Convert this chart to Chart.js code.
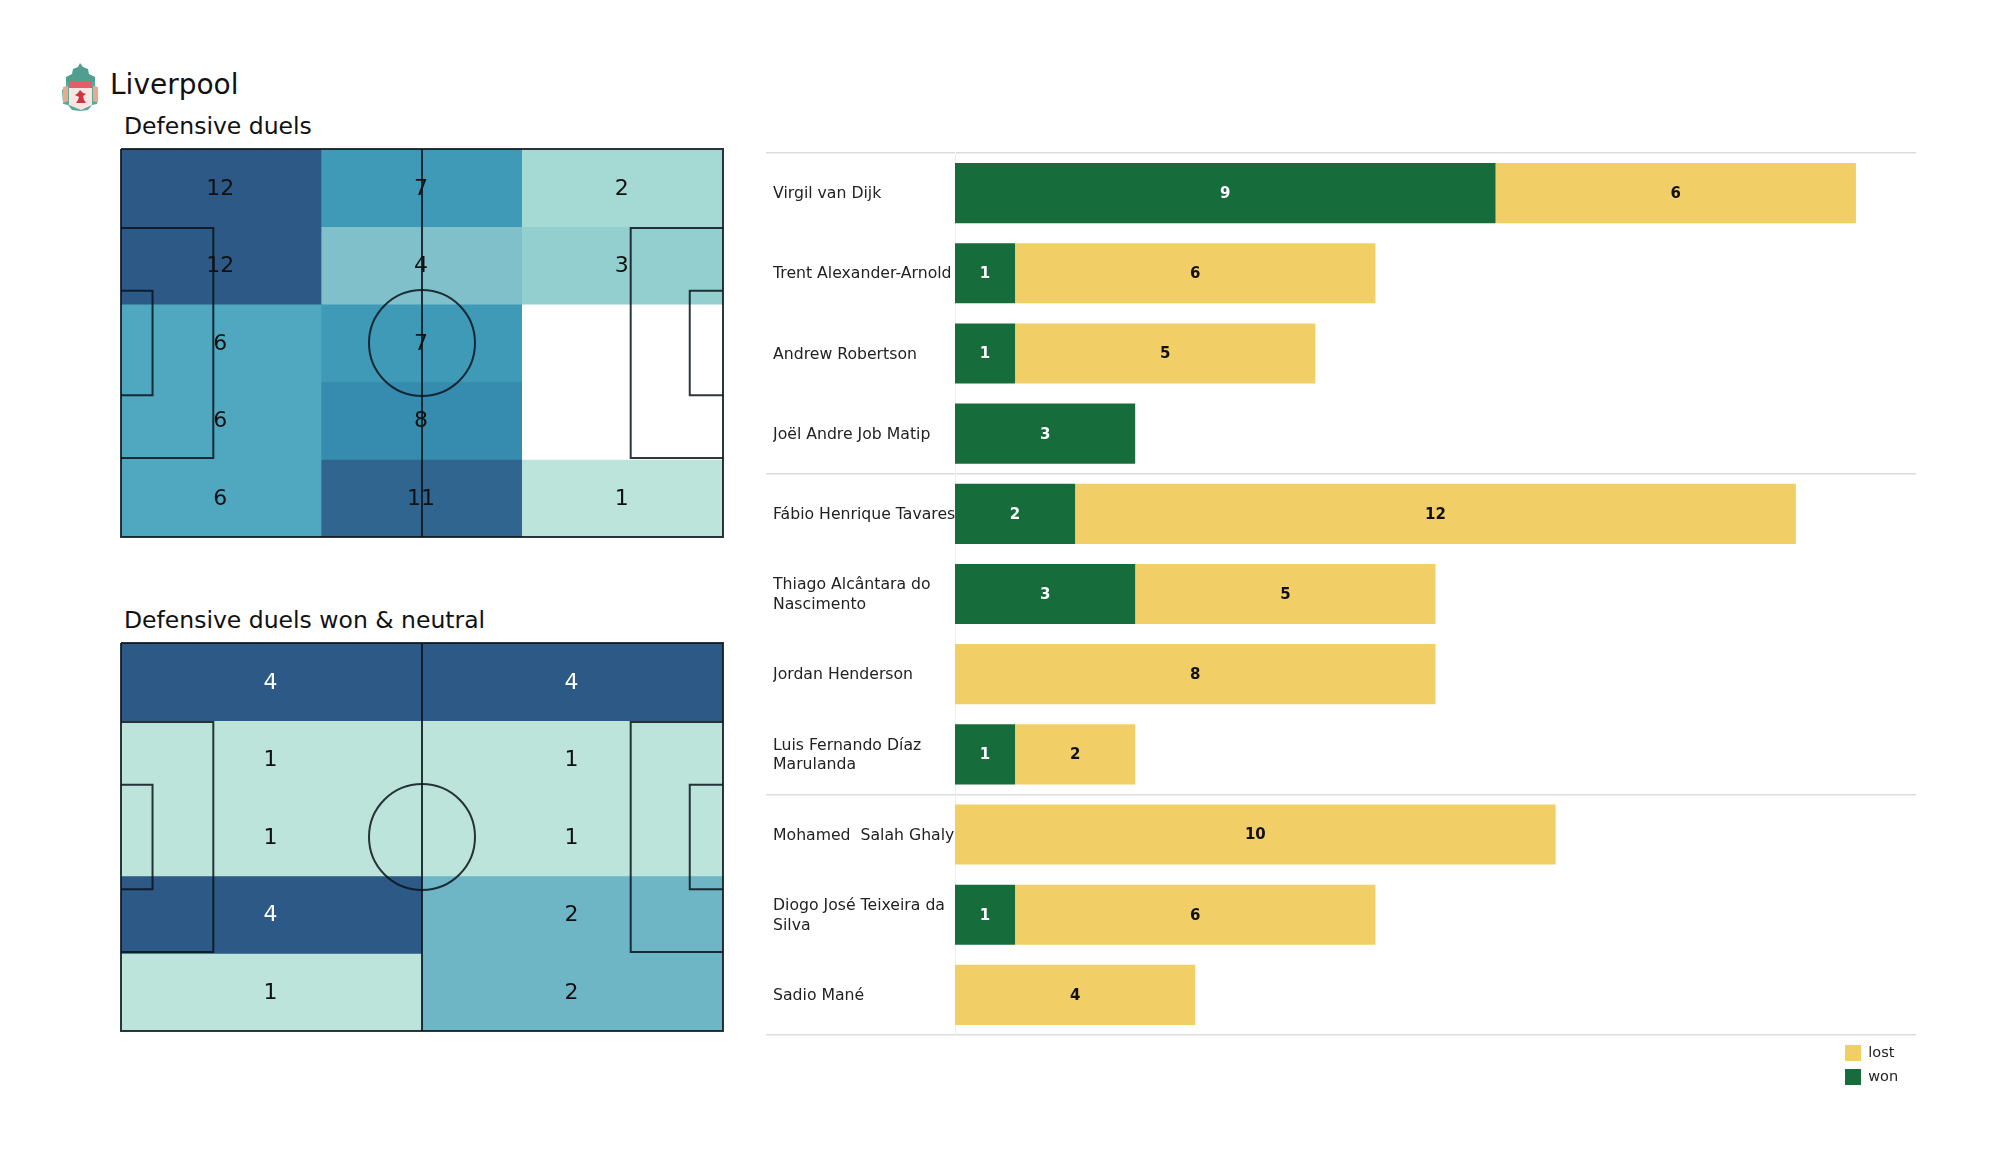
<!DOCTYPE html>
<html><head><meta charset="utf-8">
<script src="https://cdn.jsdelivr.net/npm/chart.js@4"></script>
<style>
html,body{margin:0;padding:0;background:#fff;width:2000px;height:1175px;overflow:hidden}
body{position:relative;font-family:"DejaVu Sans",sans-serif;color:#111}
canvas{position:absolute}
.t{position:absolute;white-space:nowrap;line-height:1}
.box{position:absolute}
</style></head><body>
<svg class="box" style="left:62px;top:62px;filter:blur(.6px)" width="37" height="50" viewBox="0 0 37 50">
 <path d="M18 1l3 4 5 2 1 5 6 3v5H4v-5l6-3 1-5 5-2z" fill="#4f9e8f"/>
 <path d="M4 20h29v4l3 4-1 14-5 1-4 5-8 1-8-1-4-5-5-1L0 28l4-4z" fill="#5aa898"/>
 <path d="M1 25l5-1v15l-5 2zM36 25l-5-1v15l5 2z" fill="#e8a98c"/>
 <path d="M7 19h23v24l-11 5-12-5z" fill="#f7e6e2"/>
 <rect x="7" y="19" width="23" height="7" fill="#e0606a"/>
 <path d="M18 28l3 3 3 1-3 2 1 4 2 3h-10l2-3 1-3-4-2 3-2z" fill="#d2343f"/>
</svg>
<div class="t" style="left:110px;top:71px;font-size:28px">Liverpool</div>
<div class="t" style="left:124px;top:115px;font-size:23.5px">Defensive duels</div>
<div class="t" style="left:124px;top:609px;font-size:23.5px">Defensive duels won &amp; neutral</div>
<canvas id="p1" width="660" height="430" style="left:100px;top:130px;width:660px;height:430px"></canvas>
<canvas id="p2" width="660" height="430" style="left:100px;top:624px;width:660px;height:430px"></canvas>
<canvas id="bars" width="1250" height="975" style="left:750px;top:130px;width:1250px;height:975px"></canvas>
<script>
const FONT = '"DejaVu Sans", sans-serif';
// Defensive duels grid (rows top to bottom)
const duelCols = ['left', 'middle', 'right'];
const duelRow1 = [12, 7, 2];
const duelRow2 = [12, 4, 3];
const duelRow3 = [6, 7, 0];
const duelRow4 = [6, 8, 0];
const duelRow5 = [6, 11, 1];
const duelColours = {0:'#ffffff',1:'#bce4da',2:'#a5d9d3',3:'#92cfce',4:'#7fc0ca',6:'#50a8c0',7:'#3f9ab8',8:'#368cae',11:'#30658f',12:'#2c5985'};
// Defensive duels won & neutral grid
const wonCols = ['left', 'right'];
const wonRow1 = [4, 4];
const wonRow2 = [1, 1];
const wonRow3 = [1, 1];
const wonRow4 = [4, 2];
const wonRow5 = [1, 2];
const wonColours = {1:'#bce4da',2:'#6eb6c6',4:'#2c5985'};
// Pitch markings, in metres on a 105 x 68 pitch
const outline = [[0,0],[105,0],[105,68],[0,68],[0,0]];
const halfway = [[52.5,0],[52.5,68]];
const leftBox = [[0,13.85],[16.1,13.85],[16.1,54.15],[0,54.15]];
const rightBox = [[105,13.85],[88.9,13.85],[88.9,54.15],[105,54.15]];
const leftSix = [[0,24.85],[5.5,24.85],[5.5,43.15],[0,43.15]];
const rightSix = [[105,24.85],[99.2,24.85],[99.2,43.15],[105,43.15]];
const centreSpot = [[52.5,34]];
// Player duels
const players = ['Virgil van Dijk','Trent Alexander-Arnold','Andrew Robertson','Joël Andre Job Matip','Fábio Henrique Tavares',['Thiago Alcântara do','Nascimento'],'Jordan Henderson',['Luis Fernando Díaz','Marulanda'],'Mohamed  Salah Ghaly',['Diogo José Teixeira da','Silva'],'Sadio Mané'];
const won  = [9,1,1,3,2,3,0,1,0,1,0];
const lost = [6,6,5,0,12,5,8,2,10,6,4];
const groupEnds = [0,4,8];
const WON_C = '#166c3a', LOST_C = '#f2cf66';

const cellLabels = {
  id:'cellLabels',
  afterDatasetsDraw(chart, args, opts){
    const ctx = chart.ctx; ctx.save();
    ctx.font = '22px ' + FONT; ctx.textAlign='center'; ctx.textBaseline='middle';
    chart.data.datasets.forEach((ds,i)=>{
      if(ds.type!=='bar') return;
      chart.getDatasetMeta(i).data.forEach((el,j)=>{
        const v = ds.counts[j]; if(!v) return;
        const c = el.getCenterPoint();
        ctx.fillStyle = opts.whiteFor===v ? '#ffffff' : '#111111';
        ctx.fillText(String(v), c.x-1, c.y+1);
      });
    });
    ctx.restore();
  }
};
const line = (pts)=>({type:'line',xAxisID:'x2',yAxisID:'y2',order:1,clip:false,
  data:pts.map(p=>({x:p[0],y:p[1]})),borderColor:'rgba(10,20,28,.85)',borderWidth:2,pointRadius:0,tension:0,fill:false});
function pitch(id, cols, rows, colours, whiteFor){
  const cells = rows.map((r,ri)=>({type:'bar',order:2,grouped:false,counts:r,
    data:r.map((v,ci)=>({x:cols[ci],y:[ri,ri+1]})),
    backgroundColor:r.map(v=>colours[v]),barPercentage:1,categoryPercentage:1,borderWidth:0}));
  const marks=[outline,halfway,leftBox,rightBox,leftSix,rightSix].map(line);
  marks.push({type:'line',xAxisID:'x2',yAxisID:'y2',order:1,clip:false,showLine:false,
    data:centreSpot.map(p=>({x:p[0],y:p[1]})),pointRadius:53,pointBorderWidth:2,pointBorderColor:'rgba(10,20,28,.85)',pointBackgroundColor:'transparent'});
  new Chart(document.getElementById(id),{
    data:{labels:cols,datasets:[...cells,...marks]},
    plugins:[cellLabels],
    options:{responsive:false,animation:false,
      layout:{autoPadding:false,padding:{left:21,right:37,top:19,bottom:23}},
      plugins:{legend:{display:false},tooltip:{enabled:false},cellLabels:{whiteFor}},
      scales:{
        x:{type:'category',labels:cols,display:false,offset:true},
        y:{type:'linear',min:0,max:5,reverse:true,display:false},
        x2:{type:'linear',min:0,max:105,display:false},
        y2:{type:'linear',min:0,max:68,reverse:true,display:false}
      }}
  });
}
pitch('p1',duelCols,[duelRow1,duelRow2,duelRow3,duelRow4,duelRow5],duelColours,null);
pitch('p2',wonCols,[wonRow1,wonRow2,wonRow3,wonRow4,wonRow5],wonColours,4);

const barLabels = {
  id:'barLabels',
  afterDatasetsDraw(chart){
    const ctx=chart.ctx; ctx.save();
    ctx.font='bold 15px '+FONT; ctx.textAlign='center'; ctx.textBaseline='middle';
    chart.data.datasets.forEach((ds,i)=>{
      chart.getDatasetMeta(i).data.forEach((el,j)=>{
        const v=ds.data[j]; if(!v) return;
        const c=el.getCenterPoint();
        ctx.fillStyle= ds.label==='won' ? '#ffffff' : '#111111';
        ctx.fillText(String(v),c.x,c.y+1);
      });
    });
    ctx.restore();
  }
};
const placeLegend = {
  id:'placeLegend',
  afterLayout(chart){
    const l=chart.legend; if(!l) return;
    const w=l.width,h=l.height;
    l.left=1087; l.top=907; l.right=l.left+w; l.bottom=l.top+h;
  }
};
const isSep = c => c.index===undefined || groupEnds.includes(c.index);
new Chart(document.getElementById('bars'),{
  type:'bar',
  data:{labels:players,datasets:[
    {label:'won',data:won,backgroundColor:WON_C,barPercentage:.75,categoryPercentage:1,borderWidth:0},
    {label:'lost',data:lost,backgroundColor:LOST_C,barPercentage:.75,categoryPercentage:1,borderWidth:0}
  ]},
  plugins:[barLabels,placeLegend],
  options:{indexAxis:'y',responsive:false,animation:false,
    layout:{autoPadding:false,padding:{left:23,right:84,top:23,bottom:70}},
    plugins:{tooltip:{enabled:false},
      legend:{display:true,position:'chartArea',align:'start',reverse:true,
        labels:{boxWidth:16,boxHeight:16,padding:8,color:'#222',font:{family:FONT,size:14.5}}}},
    scales:{
      x:{stacked:true,min:0,max:16,display:false},
      y:{stacked:true,offset:true,
        afterFit(s){s.width=182;},
        border:{display:true,color:'#eeeeee',width:1},
        grid:{display:true,tickLength:189,
          color:c=>isSep(c)?'#dcdcdc':'rgba(0,0,0,0)',
          tickColor:c=>isSep(c)?'#dcdcdc':'rgba(0,0,0,0)',lineWidth:1.5},
        ticks:{autoSkip:false,crossAlign:'far',padding:0,labelOffset:1,color:'#222',font:{family:FONT,size:15.7,lineHeight:1.25}}
      }
    }}
});
</script>
</body></html>
